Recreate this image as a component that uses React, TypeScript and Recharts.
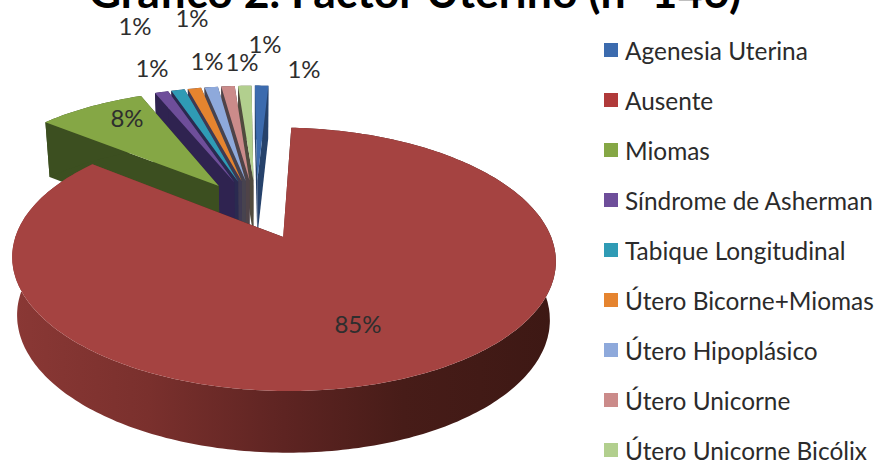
import React from "react";
import { PieChart, Pie, Legend } from "recharts";

const CATEGORIES = [
  "Agenesia Uterina",
  "Ausente",
  "Miomas",
  "Síndrome de Asherman",
  "Tabique Longitudinal",
  "Útero Bicorne+Miomas",
  "Útero Hipoplásico",
  "Útero Unicorne",
  "Útero Unicorne Bicólix",
];
const VALUES = [1, 85, 8, 1, 1, 1, 1, 1, 1];
const TOP_COLORS = ["#3C6BAE", "#A54341", "#85A745", "#6E4E9A", "#2F9BB5", "#E5842F", "#8EA9DB", "#CB8B8A", "#B2CF8E"];
const SIDE_COLORS = ["#26426B", "url(#wallRed)", "#3C4F20", "#2F2350", "#2A2A50", "#3F3A52", "#47434F", "#4F4348", "#504B3E"];
const LEGEND_SWATCHES = ["#3C6BAE", "#B03A3A", "#85A745", "#6E4E9A", "#2F9BB5", "#E5842F", "#8EA9DB", "#CB8B8A", "#B2CF8E"];

const TITLE = "Gráfico 2. Factor Uterino (n=146)";
const FONT = "Lato, 'Open Sans', sans-serif";

// Centres of the percentage labels, in category order.
const LABEL_POSITIONS = [
  [304, 68], [358, 323], [127, 117], [152, 67], [135, 25], [192, 17], [207, 60], [242, 61], [265, 43],
];

// Slices are painted far to near, going anticlockwise from the top; the big slice comes last.
const PAINT_ORDER = [0, 8, 7, 6, 5, 4, 3, 2, 1];
const rows = PAINT_ORDER.map((i) => ({ name: CATEGORIES[i], value: VALUES[i], fill: TOP_COLORS[i] }));

// View of the tilted disc: how flat it looks, how strong the perspective is,
// how far each slice is pulled out, and how far the floor of the disc draws in.
const TILT = 0.46;
const PERSPECTIVE = 0.162;
const EXPLODE = 0.25;
const FLOOR_SHRINK = 0.98;

const rad = (d: number) => (d * Math.PI) / 180;

function Slice3D(props: any) {
  const { cx, cy, outerRadius: R, startAngle, endAngle, name, fill } = props;
  const idx = CATEGORIES.indexOf(name);
  const mid = rad((startAngle + endAngle) / 2);
  const du = EXPLODE * Math.cos(mid);
  const dv = EXPLODE * Math.sin(mid);

  const top = (u: number, v: number) => {
    const s = 1 / (1 + PERSPECTIVE * v);
    return { x: cx + R * u * s, y: cy - R * TILT * v * s, s };
  };
  const floor = (p: { x: number; y: number; s: number }) => ({
    x: cx + (p.x - cx) * FLOOR_SHRINK,
    y: p.y + 38 + 19 * p.s,
    s: p.s,
  });

  const apex = top(du, dv);
  const rim: { x: number; y: number; s: number }[] = [];
  const steps = Math.max(2, Math.ceil(Math.abs(startAngle - endAngle)));
  for (let i = 0; i <= steps; i++) {
    const a = rad(startAngle + ((endAngle - startAngle) * i) / steps);
    rim.push(top(du + Math.cos(a), dv + Math.sin(a)));
  }
  const path = (pts: { x: number; y: number }[]) =>
    "M" + pts.map((p) => `${p.x.toFixed(1)},${p.y.toFixed(1)}`).join("L") + "Z";

  const wall = SIDE_COLORS[idx];
  const first = rim[0];
  const last = rim[rim.length - 1];
  return (
    <g>
      <path d={path([apex, first, floor(first), floor(apex)])} fill={wall} />
      <path d={path([apex, last, floor(last), floor(apex)])} fill={wall} />
      <path d={path([...rim, ...rim.map(floor).reverse()])} fill={wall} />
      <path d={path([apex, ...rim])} fill={fill} />
    </g>
  );
}

const percentText = (p: any) => {
  const [x, y] = LABEL_POSITIONS[CATEGORIES.indexOf(p.name)];
  return (
    <text x={x} y={y} textAnchor="middle" dominantBaseline="central" fontFamily={FONT} fontSize={24} fill="#2e2e2e">
      {`${Math.round(p.percent * 100)}%`}
    </text>
  );
};

const LegendList = ({ payload }: any) => {
  const entries = [...(payload || [])].sort(
    (a: any, b: any) => CATEGORIES.indexOf(a.value) - CATEGORIES.indexOf(b.value)
  );
  return (
    <div style={{ fontFamily: FONT, fontSize: 24.4, color: "#2b2b2b" }}>
      {entries.map((e: any, i: number) => (
        <div key={e.value} style={{ height: 50, display: "flex", alignItems: "center", whiteSpace: "nowrap" }}>
          <span style={{ width: 14, height: 14, background: LEGEND_SWATCHES[i], marginRight: 7, flex: "none" }} />
          {e.value}
        </div>
      ))}
    </div>
  );
};

export default function App() {
  return (
    <div style={{ position: "absolute", left: 0, top: 0, width: 882, height: 464, overflow: "hidden", background: "#fff" }}>
      <PieChart width={882} height={464} margin={{ top: 0, right: 0, bottom: 0, left: 0 }}>
        <defs>
          <linearGradient id="wallRed" x1="0" y1="0" x2="1" y2="0">
            <stop offset="0" stopColor="#8A3835" />
            <stop offset="0.25" stopColor="#7A302D" />
            <stop offset="0.5" stopColor="#5E2422" />
            <stop offset="0.72" stopColor="#471C18" />
            <stop offset="1" stopColor="#3D1814" />
          </linearGradient>
        </defs>
        <text x={415} y={8} textAnchor="middle" fontFamily={FONT} fontWeight={700} fontSize={44.6} fill="#000">
          {TITLE}
        </text>
        <Pie
          data={rows}
          dataKey="value"
          nameKey="name"
          cx={256}
          cy={209}
          innerRadius={0}
          outerRadius={258}
          startAngle={87}
          endAngle={447}
          stroke="none"
          isAnimationActive={false}
          shape={(p: any) => <Slice3D {...p} />}
          label={percentText}
          labelLine={false}
        />
        <Legend
          layout="vertical"
          align="right"
          verticalAlign="top"
          content={<LegendList />}
          wrapperStyle={{ left: 604, top: 25, width: 278 }}
        />
      </PieChart>
    </div>
  );
}
